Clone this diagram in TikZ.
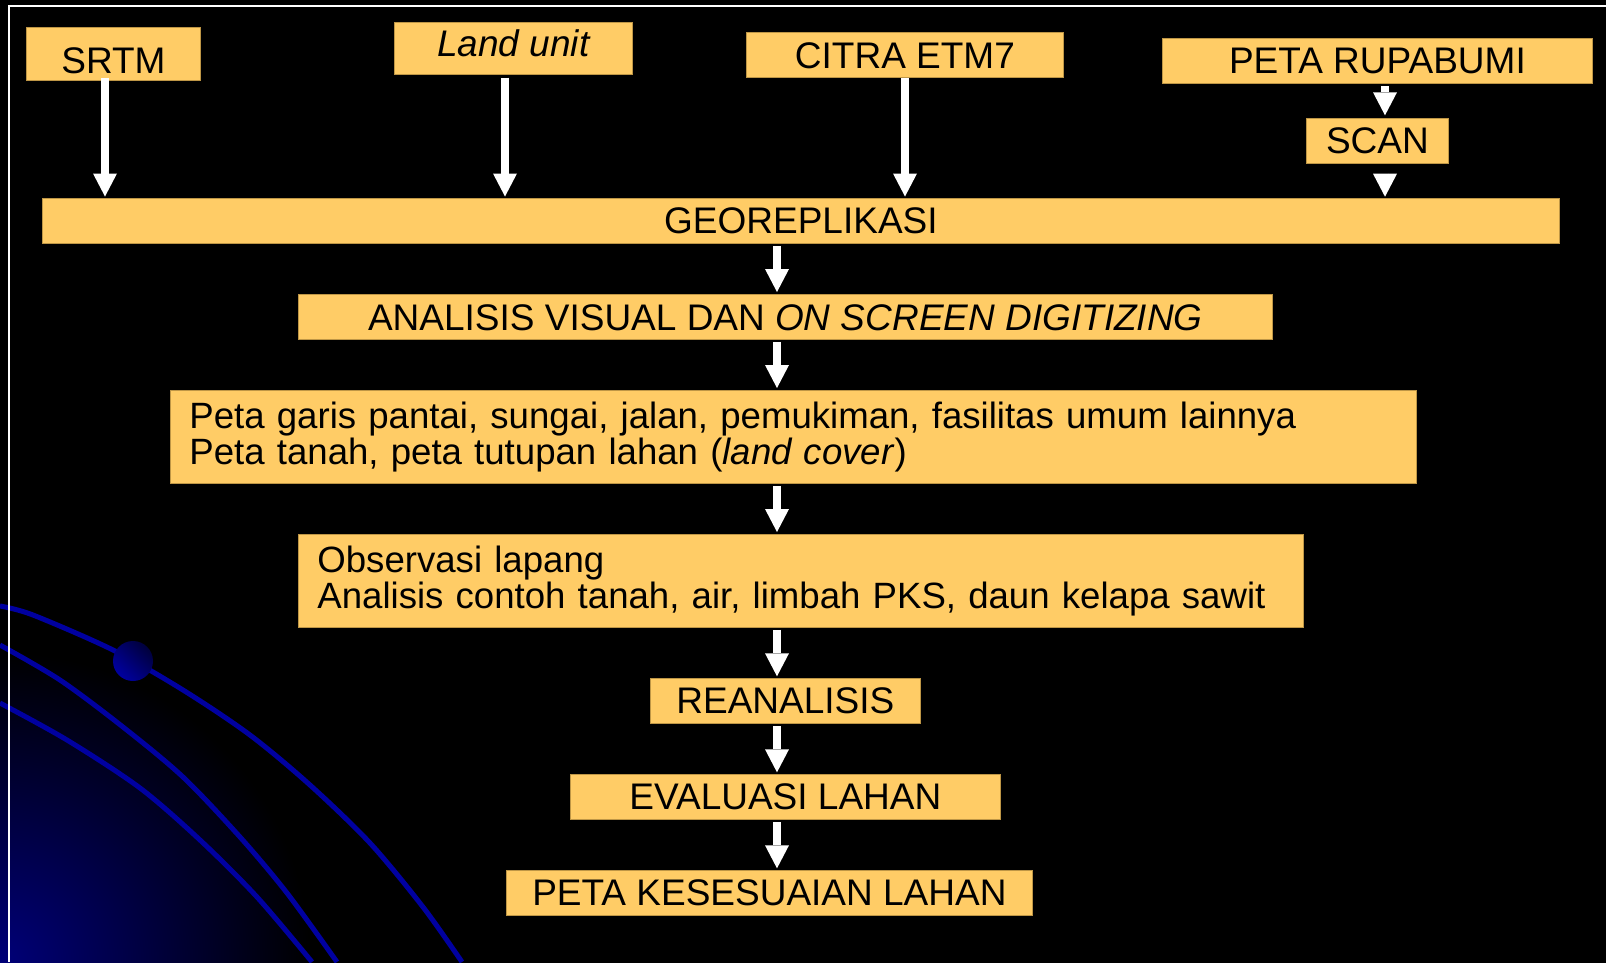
\documentclass[tikz,border=0pt]{standalone}
\usepackage{fontspec}
\setmainfont{Liberation Sans}
\usetikzlibrary{arrows.meta, positioning, calc}

\definecolor{kuning}{RGB}{255,204,102}
\definecolor{tepi}{RGB}{190,150,70}
\definecolor{biru}{RGB}{0,0,160}
\definecolor{birutua}{RGB}{0,0,60}
\definecolor{birusudut}{RGB}{0,0,120}

\tikzset{
  kotak/.style={fill=kuning, draw=tepi, line width=0.8pt, inner sep=0pt, anchor=north west,
    font=\fontsize{37pt}{44pt}\selectfont},
  kotakdua/.style={kotak, font=\fontsize{36.6pt}{36.5pt}\selectfont, align=left, inner xsep=19pt},
  panah/.style={white, line width=8pt, -{Triangle[length=23pt, width=24pt, line width=0pt]},
    shorten <=2pt, shorten >=2pt},
  lengkung/.style={biru, line width=5pt}
}

\begin{document}
\begin{tikzpicture}[x=1pt, y=-1pt]
\useasboundingbox (0,0) rectangle (1606,962);
\fill[black] (-5,-5) rectangle (1611,967);

% latar: sudut biru dan garis lengkung
\begin{scope}
  \clip (0,0) rectangle (1606,962);
  \fill[inner color=birusudut, outer color=black] (0,962) circle (310pt);
  \draw[lengkung] plot[smooth] coordinates {(0,606) (33,615) (113,650) (183,690) (250,735) (310,785) (370,843) (423,907) (462,962)};
  \draw[lengkung] plot[smooth] coordinates {(0,645) (60,680) (123,727) (183,777) (240,837) (287,893) (337,962)};
  \draw[lengkung] plot[smooth] coordinates {(0,703) (67,740) (140,788) (200,840) (257,897) (312,962)};
  \shade[top color=biru, bottom color=birutua, shading angle=135] (133,661) circle (20pt);
  \draw[white, line width=2pt] (9,962) -- (9,5.5) -- (1606,5.5);
\end{scope}

% masukan
\node[kotak, minimum width=174pt, text height=45.7pt, text depth=7.3pt] (srtm) at (26,27) {SRTM};
\node[kotak, minimum width=238pt, text height=33.4pt, text depth=18.6pt] (landunit) at (394,22.3) {\itshape Land unit};
\node[kotak, minimum width=317pt, text height=36pt, text depth=9pt] (citra) at (746,32) {CITRA ETM7};
\node[kotak, minimum width=430pt, text height=35pt, text depth=10pt] (rupabumi) at (1162,38.3) {PETA RUPABUMI};
\node[kotak, minimum width=142pt, text height=35pt, text depth=10pt] (scan) at (1306,118.3) {SCAN};

% alur utama
\node[kotak, minimum width=1517pt, text height=35pt, text depth=10pt] (georep) at (42,198) {GEOREPLIKASI};
\node[kotak, minimum width=974pt, text height=36pt, text depth=9pt] (analisis) at (298,294) {ANALISIS VISUAL DAN \textit{ON SCREEN DIGITIZING}};
\node[kotakdua, text width=1208pt, minimum height=93pt] (petagaris) at (170,390) {Peta garis pantai, sungai, jalan, pemukiman, fasilitas umum lainnya\\
  Peta tanah, peta tutupan lahan (\textit{land cover})};
\node[kotakdua, text width=967pt, minimum height=93pt] (observasi) at (298,534) {Observasi lapang\\
  Analisis contoh tanah, air, limbah PKS, daun kelapa sawit};
\node[kotak, minimum width=270pt, text height=34.7pt, text depth=10.3pt] (reanalisis) at (650,678.3) {REANALISIS};
\node[kotak, minimum width=430pt, text height=35pt, text depth=10pt] (evaluasi) at (570,774.3) {EVALUASI LAHAN};
\node[kotak, minimum width=526pt, text height=34.7pt, text depth=10.3pt] (kesesuaian) at (506,870.3) {PETA KESESUAIAN LAHAN};

% panah
\coordinate (xa) at (105,0);
\coordinate (xb) at (505,0);
\coordinate (xc) at (905,0);
\coordinate (xd) at (1385,0);
\coordinate (xt) at (777,0);
\draw[panah, shorten <=-3pt, shorten >=1.5pt] (xa |- srtm.south) -- (xa |- georep.north);
\draw[panah, shorten <=2.4pt, shorten >=1.5pt] (xb |- landunit.south) -- (xb |- georep.north);
\draw[panah, shorten <=0pt, shorten >=1.5pt] (xc |- citra.south) -- (xc |- georep.north);
\draw[panah, shorten >=3pt] (xd |- rupabumi.south) -- (xd |- scan.north);
\draw[panah, shorten <=9.5pt, shorten >=1.3pt] (xd |- scan.south) -- (xd |- georep.north);
\foreach \a/\b in {georep/analisis, analisis/petagaris, petagaris/observasi,
  observasi/reanalisis, reanalisis/evaluasi, evaluasi/kesesuaian}
  \draw[panah] (xt |- \a.south) -- (xt |- \b.north);
\end{tikzpicture}
\end{document}
